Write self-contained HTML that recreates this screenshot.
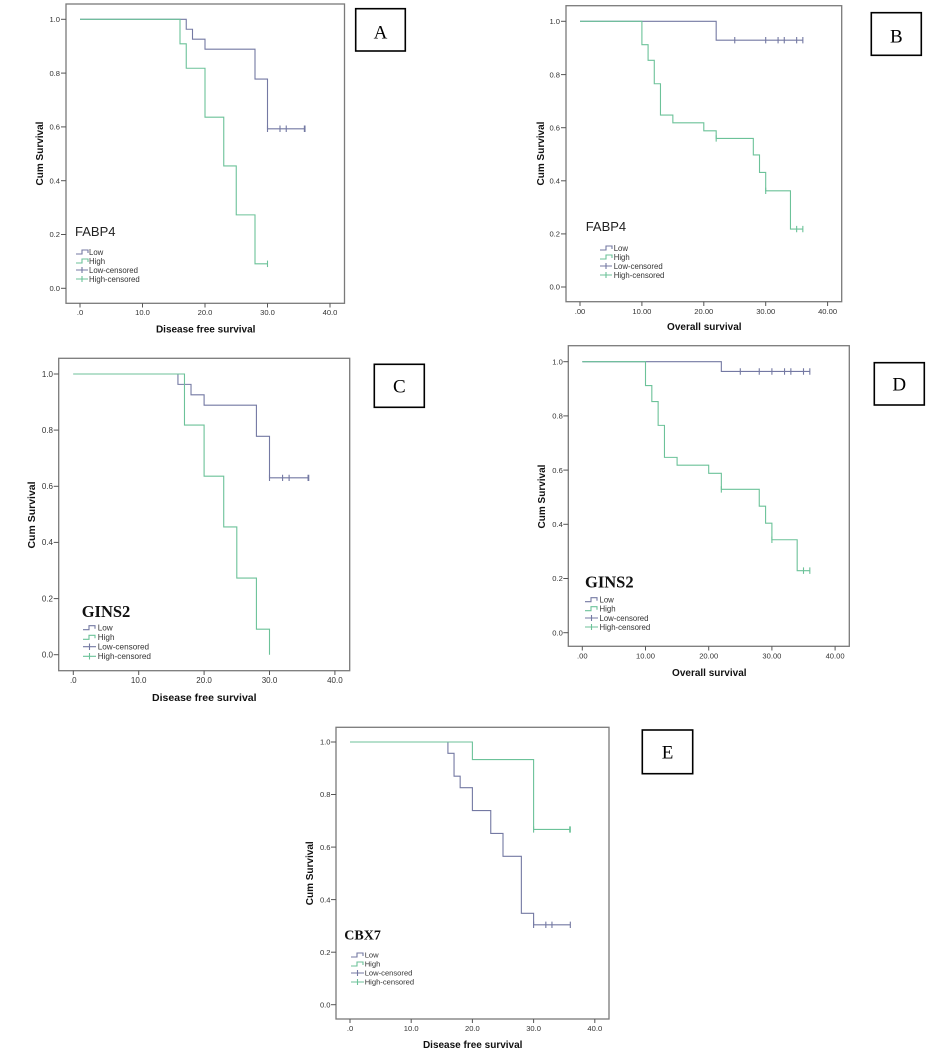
<!DOCTYPE html>
<html><head><meta charset="utf-8"><style>
html,body{margin:0;padding:0;background:#fff;}
svg{display:block;}
.t{font-family:"Liberation Sans",sans-serif;font-size:7.6px;fill:#333;}
.ti{font-family:"Liberation Sans",sans-serif;font-size:10px;font-weight:bold;fill:#111;}
.lg{font-family:"Liberation Sans",sans-serif;font-size:7.8px;fill:#333;}
.fr{fill:none;stroke:#7a7a7a;stroke-width:1.3;}
.tk{stroke:#555;stroke-width:1;}
.lo{fill:none;stroke:#7479a3;stroke-width:1.1;vector-effect:non-scaling-stroke;}
.hi{fill:none;stroke:#6cc299;stroke-width:1.1;vector-effect:non-scaling-stroke;}
.box{fill:none;stroke:#000;stroke-width:1.6;}
.let{font-family:"Liberation Serif",serif;font-size:19px;fill:#000;}
.gn{font-family:"Liberation Serif",serif;font-weight:bold;fill:#111;}
</style></head><body>
<svg width="943" height="1059" viewBox="0 0 943 1059" xmlns="http://www.w3.org/2000/svg">

<!-- ================= PANEL A ================= -->
<rect class="fr" x="66" y="4" width="278.5" height="299.3"/>
<g class="tk">
<line x1="61" y1="288.3" x2="66" y2="288.3"/><line x1="61" y1="234.5" x2="66" y2="234.5"/><line x1="61" y1="180.7" x2="66" y2="180.7"/><line x1="61" y1="126.9" x2="66" y2="126.9"/><line x1="61" y1="73.1" x2="66" y2="73.1"/><line x1="61" y1="19.3" x2="66" y2="19.3"/>
<line x1="80" y1="303.3" x2="80" y2="307.5"/><line x1="142.5" y1="303.3" x2="142.5" y2="307.5"/><line x1="205" y1="303.3" x2="205" y2="307.5"/><line x1="267.5" y1="303.3" x2="267.5" y2="307.5"/><line x1="330" y1="303.3" x2="330" y2="307.5"/>
</g>
<g class="t" text-anchor="end">
<text x="60" y="291">0.0</text><text x="60" y="237.2">0.2</text><text x="60" y="183.4">0.4</text><text x="60" y="129.6">0.6</text><text x="60" y="75.8">0.8</text><text x="60" y="22">1.0</text>
</g>
<g class="t" text-anchor="middle">
<text x="80" y="315">.0</text><text x="142.5" y="315">10.0</text><text x="205" y="315">20.0</text><text x="267.5" y="315">30.0</text><text x="330" y="315">40.0</text>
</g>
<text class="ti" x="205.7" y="332.5" text-anchor="middle">Disease free survival</text>
<text class="ti" transform="translate(43,153.5) rotate(-90)" text-anchor="middle">Cum Survival</text>
<g transform="translate(80,288.3) scale(6.25,-269)">
<path class="lo" d="M0,1H17V0.963H18V0.926H20V0.889H28V0.778H30V0.593H36"/>
<path class="lo" d="M30,0.581V0.605M32,0.581V0.605M33,0.581V0.605M36,0.581V0.605M35.9,0.581V0.605"/>
<path class="hi" d="M0,1H16V0.909H17V0.818H20V0.636H23V0.455H25V0.273H28V0.091H30"/>
<path class="hi" d="M30,0.079V0.103"/>
</g>
<text x="75" y="236" style="font-family:'Liberation Sans',sans-serif;font-size:13px;fill:#222">FABP4</text>
<path class="lo" d="M76,254H82V250H88V253"/>
<path class="hi" d="M76,263H82V259H88V262"/>
<path class="lo" d="M76,270H88M82,267V273"/>
<path class="hi" d="M76,279H88M82,276V282"/>
<g class="lg"><text x="89" y="255">Low</text><text x="89" y="264">High</text><text x="89" y="273">Low-censored</text><text x="89" y="282">High-censored</text></g>
<rect class="box" x="355.7" y="8.7" width="49.6" height="42.3"/>
<text class="let" x="380.5" y="38.5" text-anchor="middle">A</text>

<!-- ================= PANEL B ================= -->
<rect class="fr" x="566" y="5.7" width="275.7" height="296"/>
<g class="tk">
<line x1="561" y1="287" x2="566" y2="287"/><line x1="561" y1="233.9" x2="566" y2="233.9"/><line x1="561" y1="180.8" x2="566" y2="180.8"/><line x1="561" y1="127.7" x2="566" y2="127.7"/><line x1="561" y1="74.6" x2="566" y2="74.6"/><line x1="561" y1="21.3" x2="566" y2="21.3"/>
<line x1="580" y1="301.7" x2="580" y2="306"/><line x1="641.9" y1="301.7" x2="641.9" y2="306"/><line x1="703.8" y1="301.7" x2="703.8" y2="306"/><line x1="765.7" y1="301.7" x2="765.7" y2="306"/><line x1="827.6" y1="301.7" x2="827.6" y2="306"/>
</g>
<g class="t" text-anchor="end">
<text x="560" y="289.7">0.0</text><text x="560" y="236.6">0.2</text><text x="560" y="183.5">0.4</text><text x="560" y="130.4">0.6</text><text x="560" y="77.3">0.8</text><text x="560" y="24">1.0</text>
</g>
<g class="t" text-anchor="middle">
<text x="580" y="314">.00</text><text x="641.9" y="314">10.00</text><text x="703.8" y="314">20.00</text><text x="765.7" y="314">30.00</text><text x="827.6" y="314">40.00</text>
</g>
<text class="ti" x="704.3" y="330" text-anchor="middle">Overall survival</text>
<text class="ti" transform="translate(544,153.5) rotate(-90)" text-anchor="middle">Cum Survival</text>
<g transform="translate(580,287) scale(6.19,-265.7)">
<path class="lo" d="M0,1H22V0.929H36"/>
<path class="lo" d="M25,0.917V0.941M30,0.917V0.941M32,0.917V0.941M33,0.917V0.941M35,0.917V0.941M36,0.917V0.941"/>
<path class="hi" d="M0,1H10V0.912H11V0.853H12V0.765H13V0.647H15V0.618H20V0.588H22V0.559H28V0.497H29V0.431H30V0.362H34V0.218H36"/>
<path class="hi" d="M22,0.547V0.571M30,0.350V0.374M35,0.206V0.230M36,0.206V0.230"/>
</g>
<text x="585.7" y="231" style="font-family:'Liberation Sans',sans-serif;font-size:13px;fill:#222">FABP4</text>
<path class="lo" d="M600,250H606V246H612V249"/>
<path class="hi" d="M600,259H606V255H612V258"/>
<path class="lo" d="M600,266H612M606,263V269"/>
<path class="hi" d="M600,275H612M606,272V278"/>
<g class="lg"><text x="613.7" y="251">Low</text><text x="613.7" y="260">High</text><text x="613.7" y="269">Low-censored</text><text x="613.7" y="278">High-censored</text></g>
<rect class="box" x="871.3" y="12.7" width="50" height="42.6"/>
<text class="let" x="896.3" y="42.5" text-anchor="middle">B</text>

<!-- ================= PANEL C ================= -->
<rect class="fr" x="58.7" y="358.3" width="291" height="312.4"/>
<g class="tk">
<line x1="53.7" y1="654.7" x2="58.7" y2="654.7"/><line x1="53.7" y1="598.6" x2="58.7" y2="598.6"/><line x1="53.7" y1="542.4" x2="58.7" y2="542.4"/><line x1="53.7" y1="486.3" x2="58.7" y2="486.3"/><line x1="53.7" y1="430.1" x2="58.7" y2="430.1"/><line x1="53.7" y1="374" x2="58.7" y2="374"/>
<line x1="73.3" y1="670.7" x2="73.3" y2="675"/><line x1="138.7" y1="670.7" x2="138.7" y2="675"/><line x1="204.1" y1="670.7" x2="204.1" y2="675"/><line x1="269.5" y1="670.7" x2="269.5" y2="675"/><line x1="334.9" y1="670.7" x2="334.9" y2="675"/>
</g>
<g class="t" text-anchor="end" style="font-size:8px">
<text x="53" y="657.5">0.0</text><text x="53" y="601.4">0.2</text><text x="53" y="545.2">0.4</text><text x="53" y="489.1">0.6</text><text x="53" y="432.9">0.8</text><text x="53" y="376.8">1.0</text>
</g>
<g class="t" text-anchor="middle" style="font-size:8px">
<text x="73.3" y="683">.0</text><text x="138.7" y="683">10.0</text><text x="204.1" y="683">20.0</text><text x="269.5" y="683">30.0</text><text x="334.9" y="683">40.0</text>
</g>
<text class="ti" x="204.3" y="701" text-anchor="middle" style="font-size:10.5px">Disease free survival</text>
<text class="ti" transform="translate(35,515) rotate(-90)" text-anchor="middle" style="font-size:10.5px">Cum Survival</text>
<g transform="translate(73.3,654.7) scale(6.54,-280.7)">
<path class="lo" d="M0,1H16V0.963H18V0.926H20V0.889H28V0.778H30V0.630H36"/>
<path class="lo" d="M30,0.619V0.641M32,0.619V0.641M33,0.619V0.641M36,0.619V0.641M35.9,0.619V0.641"/>
<path class="hi" d="M0,1H17V0.818H20V0.636H23V0.455H25V0.273H28V0.091H30V0"/>
</g>
<text class="gn" x="81.7" y="617" style="font-size:16.5px">GINS2</text>
<path class="lo" d="M83,629.7H89V625.7H95V628.7"/>
<path class="hi" d="M83,639.3H89V635.3H95V638.3"/>
<path class="lo" d="M83,646.7H96M89.5,643.5V650"/>
<path class="hi" d="M83,656.3H96M89.5,653V659.5"/>
<g class="lg" style="font-size:8.2px"><text x="97.7" y="630.6">Low</text><text x="97.7" y="640.2">High</text><text x="97.7" y="649.6">Low-censored</text><text x="97.7" y="659.2">High-censored</text></g>
<rect class="box" x="374.3" y="364.3" width="50" height="43"/>
<text class="let" x="399.3" y="392.5" text-anchor="middle">C</text>

<!-- ================= PANEL D ================= -->
<rect class="fr" x="568.3" y="345.7" width="281" height="300.6"/>
<g class="tk">
<line x1="563.3" y1="632.7" x2="568.3" y2="632.7"/><line x1="563.3" y1="578.5" x2="568.3" y2="578.5"/><line x1="563.3" y1="524.3" x2="568.3" y2="524.3"/><line x1="563.3" y1="470.1" x2="568.3" y2="470.1"/><line x1="563.3" y1="415.9" x2="568.3" y2="415.9"/><line x1="563.3" y1="361.7" x2="568.3" y2="361.7"/>
<line x1="582.3" y1="646.3" x2="582.3" y2="650.5"/><line x1="645.5" y1="646.3" x2="645.5" y2="650.5"/><line x1="708.7" y1="646.3" x2="708.7" y2="650.5"/><line x1="771.9" y1="646.3" x2="771.9" y2="650.5"/><line x1="835.1" y1="646.3" x2="835.1" y2="650.5"/>
</g>
<g class="t" text-anchor="end">
<text x="562.8" y="635.4">0.0</text><text x="562.8" y="581.2">0.2</text><text x="562.8" y="527">0.4</text><text x="562.8" y="472.8">0.6</text><text x="562.8" y="418.6">0.8</text><text x="562.8" y="364.4">1.0</text>
</g>
<g class="t" text-anchor="middle">
<text x="582.3" y="658.7">.00</text><text x="645.5" y="658.7">10.00</text><text x="708.7" y="658.7">20.00</text><text x="771.9" y="658.7">30.00</text><text x="835.1" y="658.7">40.00</text>
</g>
<text class="ti" x="709.3" y="676" text-anchor="middle">Overall survival</text>
<text class="ti" transform="translate(545,496.5) rotate(-90)" text-anchor="middle">Cum Survival</text>
<g transform="translate(582.3,632.7) scale(6.32,-271)">
<path class="lo" d="M0,1H22V0.964H36"/>
<path class="lo" d="M25,0.952V0.976M28,0.952V0.976M30,0.952V0.976M32,0.952V0.976M33,0.952V0.976M35,0.952V0.976M36,0.952V0.976"/>
<path class="hi" d="M0,1H10V0.912H11V0.853H12V0.765H13V0.647H15V0.618H20V0.588H22V0.529H28V0.467H29V0.404H30V0.343H34V0.229H36"/>
<path class="hi" d="M22,0.517V0.541M30,0.331V0.355M35,0.217V0.241M36,0.217V0.241"/>
</g>
<text class="gn" x="585" y="587.5" style="font-size:16.5px">GINS2</text>
<path class="lo" d="M585,601.7H591V597.7H597V600.7"/>
<path class="hi" d="M585,610.7H591V606.7H597V609.7"/>
<path class="lo" d="M585,618H598M591.5,615V621"/>
<path class="hi" d="M585,627H598M591.5,624V630"/>
<g class="lg"><text x="599.5" y="602.5">Low</text><text x="599.5" y="611.5">High</text><text x="599.5" y="620.8">Low-censored</text><text x="599.5" y="629.8">High-censored</text></g>
<rect class="box" x="874.3" y="362.7" width="50" height="42.3"/>
<text class="let" x="899.3" y="390.5" text-anchor="middle">D</text>

<!-- ================= PANEL E ================= -->
<rect class="fr" x="336" y="727.3" width="273" height="291.7"/>
<g class="tk">
<line x1="331" y1="1004.7" x2="336" y2="1004.7"/><line x1="331" y1="952.2" x2="336" y2="952.2"/><line x1="331" y1="899.6" x2="336" y2="899.6"/><line x1="331" y1="847.1" x2="336" y2="847.1"/><line x1="331" y1="794.5" x2="336" y2="794.5"/><line x1="331" y1="742" x2="336" y2="742"/>
<line x1="350" y1="1019" x2="350" y2="1023"/><line x1="411.2" y1="1019" x2="411.2" y2="1023"/><line x1="472.4" y1="1019" x2="472.4" y2="1023"/><line x1="533.6" y1="1019" x2="533.6" y2="1023"/><line x1="594.8" y1="1019" x2="594.8" y2="1023"/>
</g>
<g class="t" text-anchor="end">
<text x="330.5" y="1007.4">0.0</text><text x="330.5" y="954.9">0.2</text><text x="330.5" y="902.3">0.4</text><text x="330.5" y="849.8">0.6</text><text x="330.5" y="797.2">0.8</text><text x="330.5" y="744.7">1.0</text>
</g>
<g class="t" text-anchor="middle">
<text x="350" y="1031">.0</text><text x="411.2" y="1031">10.0</text><text x="472.4" y="1031">20.0</text><text x="533.6" y="1031">30.0</text><text x="594.8" y="1031">40.0</text>
</g>
<text class="ti" x="472.7" y="1048" text-anchor="middle">Disease free survival</text>
<text class="ti" transform="translate(313,873.3) rotate(-90)" text-anchor="middle">Cum Survival</text>
<g transform="translate(350,1004.7) scale(6.12,-262.7)">
<path class="lo" d="M0,1H16V0.957H17V0.870H18V0.826H20V0.739H23V0.652H25V0.565H28V0.348H30V0.304H36"/>
<path class="lo" d="M30,0.292V0.316M32,0.292V0.316M33,0.292V0.316M36,0.292V0.316"/>
<path class="hi" d="M0,1H20V0.933H30V0.667H36"/>
<path class="hi" d="M30,0.655V0.679M36,0.655V0.679M35.9,0.655V0.679"/>
</g>
<text class="gn" x="344.3" y="939.5" style="font-size:14px">CBX7</text>
<path class="lo" d="M351,957H357V953H363V956"/>
<path class="hi" d="M351,966H357V962H363V965"/>
<path class="lo" d="M351,973H364M357.5,970V976"/>
<path class="hi" d="M351,982H364M357.5,979V985"/>
<g class="lg" style="font-size:7.6px"><text x="364.7" y="957.7">Low</text><text x="364.7" y="966.7">High</text><text x="364.7" y="975.7">Low-censored</text><text x="364.7" y="984.7">High-censored</text></g>
<rect class="box" x="642.3" y="730" width="50.4" height="43.7"/>
<text class="let" x="667.5" y="758.5" text-anchor="middle">E</text>

</svg>
</body></html>
